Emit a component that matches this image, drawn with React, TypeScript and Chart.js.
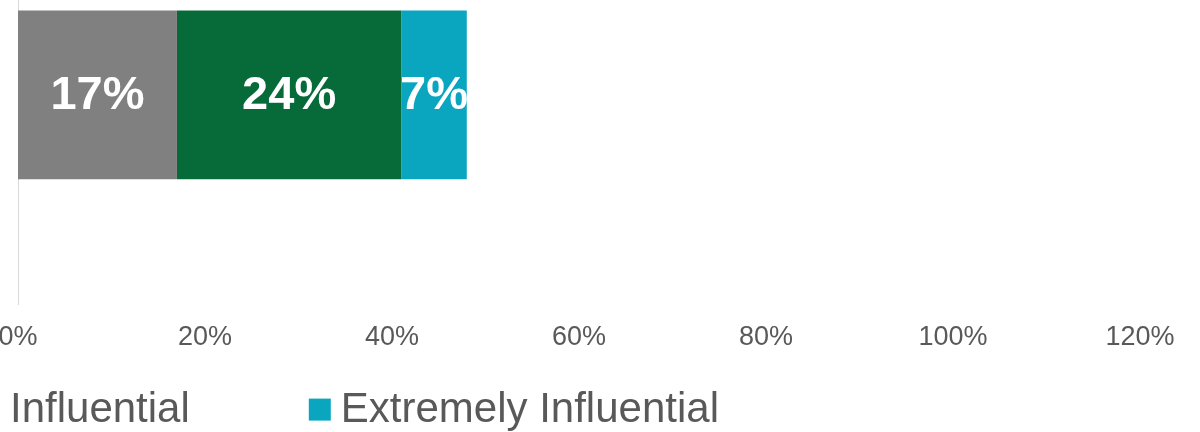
import React, { useEffect, useRef } from "react";
import { Chart, registerables } from "chart.js";

Chart.register(...registerables);

const categories = ["All respondents"];
const seriesNames = ["Somewhat Influential", "Influential", "Extremely Influential"];
const seriesValues = [[17], [24], [7]];
const seriesColors = ["#808080", "#066B38", "#0AA6BF"];
const tickValues = [0, 20, 40, 60, 80, 100, 120];

const FONT = "'Liberation Sans', Arial, Helvetica, sans-serif";

const valueLabelPlugin = {
  id: "valueLabels",
  afterDatasetsDraw(chart: any) {
    const ctx = chart.ctx;
    ctx.save();
    ctx.fillStyle = "#FFFFFF";
    ctx.font = `bold 47px ${FONT}`;
    ctx.textAlign = "center";
    ctx.textBaseline = "middle";
    chart.data.datasets.forEach((ds: any, i: number) => {
      const meta = chart.getDatasetMeta(i);
      meta.data.forEach((bar: any, j: number) => {
        const v = ds.data[j];
        const x = (bar.x + bar.base) / 2;
        ctx.fillText(`${v}%`, x, bar.y + 1);
      });
    });
    ctx.restore();
  },
};

const legendPlugin = {
  id: "customLegend",
  afterDraw(chart: any) {
    const ctx = chart.ctx;
    const box = 22;
    const gap = 10;
    const itemGap = 119;
    const y = chart.chartArea.bottom + 105;
    ctx.save();
    ctx.font = `42px ${FONT}`;
    ctx.textBaseline = "middle";
    ctx.textAlign = "left";
    const widths = chart.data.datasets.map((d: any) => ctx.measureText(d.label).width);
    // anchor: second item box starts at canvas x = 0
    let x = 0 - (box + gap + widths[0] + itemGap);
    chart.data.datasets.forEach((d: any, i: number) => {
      ctx.fillStyle = d.backgroundColor;
      ctx.fillRect(x, y - box / 2, box, box);
      ctx.fillStyle = "#595959";
      ctx.fillText(d.label, x + box + gap, y + 1);
      x += box + gap + widths[i] + itemGap;
    });
    ctx.restore();
  },
};

export default function App() {
  const ref = useRef<HTMLCanvasElement | null>(null);
  useEffect(() => {
    if (!ref.current) return;
    const chart = new Chart(ref.current, {
      type: "bar",
      data: {
        labels: categories,
        datasets: seriesNames.map((name, i) => ({
          label: name,
          data: seriesValues[i],
          backgroundColor: seriesColors[i],
          borderWidth: 0,
          categoryPercentage: 1,
          barPercentage: 0.402,
        })),
      },
      options: {
        indexAxis: "y",
        responsive: false,
        animation: false,
        layout: { padding: { left: 40, right: 60, top: 0, bottom: 74 } },
        plugins: {
          legend: { display: false },
          tooltip: { enabled: false },
        },
        scales: {
          x: {
            stacked: true,
            min: 0,
            max: 120,
            afterBuildTicks: (scale: any) => {
              scale.ticks = tickValues.map((v) => ({ value: v }));
            },
            grid: { display: false, drawTicks: false },
            border: { display: false },
            ticks: {
              padding: 17,
              color: "#595959",
              font: { family: FONT, size: 27 },
              callback: (v: any) => `${v}%`,
              maxRotation: 0,
            },
          },
          y: {
            stacked: true,
            grid: { display: false, drawTicks: false },
            border: { display: true, color: "#D9D9D9", width: 1 },
            ticks: { display: false },
            afterFit: (scale: any) => {
              scale.width = 0;
            },
          },
        },
      },
      plugins: [valueLabelPlugin, legendPlugin],
    } as any);
    return () => chart.destroy();
  }, []);

  return (
    <div
      style={{
        position: "fixed",
        left: 0,
        top: 0,
        width: 1200,
        height: 432,
        overflow: "hidden",
        background: "#FFFFFF",
      }}
    >
      <div style={{ position: "absolute", left: -22, top: -115, width: 1222, height: 560 }}>
        <canvas ref={ref} width={1222} height={560} style={{ width: 1222, height: 560 }} />
      </div>
    </div>
  );
}
